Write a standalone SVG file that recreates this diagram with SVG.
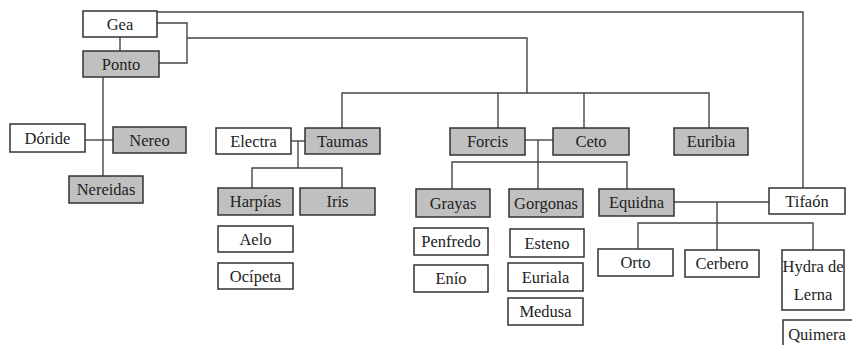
<svg xmlns="http://www.w3.org/2000/svg" width="852" height="345" viewBox="0 0 852 345">
<style>
.b{fill:#fff;stroke:#333;stroke-width:1.5}
.g{fill:#c0c0c0;stroke:#333;stroke-width:1.5}
text{font-size:16.5px;fill:#222;text-anchor:middle}
#connectors path{fill:none;stroke:#444;stroke-width:1.4}
</style>
<rect width="852" height="345" fill="#fff"/>
<g id="connectors">
<path d="M157,12 H803 V188"/>
<path d="M157,23 H187 V63 H159"/>
<path d="M187,38 H527 V93"/>
<path d="M342,128 V93 H709 V128"/>
<path d="M498,93 V128"/>
<path d="M584,93 V128"/>
<path d="M120,37 V51"/>
<path d="M103,77 V176"/>
<path d="M85,140 H113"/>
<path d="M291,141 H305"/>
<path d="M298,141 V168"/>
<path d="M252,188 V168 H342 V188"/>
<path d="M525,140 H553"/>
<path d="M538,140 V189"/>
<path d="M452,189 V162 H627 V189"/>
<path d="M674,202 H769"/>
<path d="M717,202 V250"/>
<path d="M638,249 V223 H813 V250"/>
</g>
<g font-family="Liberation Serif, DejaVu Serif, serif">
<g id="gea"><rect class="b" x="83" y="11" width="74" height="26"/><text x="120" y="30">Gea</text></g>
<g id="ponto"><rect class="g" x="83" y="51" width="76" height="26"/><text x="121" y="69.5">Ponto</text></g>
<g id="doride"><rect class="b" x="10" y="124" width="75" height="28"/><text x="47.5" y="143.5">Dóride</text></g>
<g id="nereo"><rect class="g" x="113" y="127" width="73" height="26"/><text x="149.5" y="145.5">Nereo</text></g>
<g id="nereidas"><rect class="g" x="69" y="176" width="74" height="27"/><text x="106" y="195">Nereidas</text></g>
<g id="electra"><rect class="b" x="216" y="128" width="75" height="26"/><text x="253.5" y="146.5">Electra</text></g>
<g id="taumas"><rect class="g" x="305" y="128" width="75" height="26"/><text x="342.5" y="146.5">Taumas</text></g>
<g id="harpias"><rect class="g" x="218" y="188" width="75" height="27"/><text x="255.5" y="207">Harpías</text></g>
<g id="iris"><rect class="g" x="300" y="188" width="75" height="27"/><text x="337.5" y="207">Iris</text></g>
<g id="aelo"><rect class="b" x="218" y="226" width="75" height="26"/><text x="255.5" y="244.5">Aelo</text></g>
<g id="ocipeta"><rect class="b" x="218" y="263" width="75" height="26"/><text x="255.5" y="281.5">Ocípeta</text></g>
<g id="forcis"><rect class="g" x="450" y="128" width="75" height="27"/><text x="487.5" y="147">Forcis</text></g>
<g id="ceto"><rect class="g" x="553" y="128" width="76" height="27"/><text x="591" y="147">Ceto</text></g>
<g id="euribia"><rect class="g" x="674" y="128" width="74" height="27"/><text x="711" y="147">Euribia</text></g>
<g id="grayas"><rect class="g" x="416" y="189" width="74" height="28"/><text x="453" y="208.5">Grayas</text></g>
<g id="gorgonas"><rect class="g" x="509" y="189" width="74" height="28"/><text x="546" y="208.5">Gorgonas</text></g>
<g id="equidna"><rect class="g" x="599" y="189" width="75" height="27"/><text x="636.5" y="208">Equidna</text></g>
<g id="tifaon"><rect class="b" x="769" y="188" width="76" height="26"/><text x="807" y="206.5">Tifaón</text></g>
<g id="penfredo"><rect class="b" x="414" y="228" width="74" height="27"/><text x="451" y="247">Penfredo</text></g>
<g id="enio"><rect class="b" x="414" y="265" width="74" height="27"/><text x="451" y="284">Enío</text></g>
<g id="esteno"><rect class="b" x="510" y="229" width="74" height="28"/><text x="547" y="248.5">Esteno</text></g>
<g id="euriala"><rect class="b" x="508" y="263" width="75" height="28"/><text x="545.5" y="282.5">Euriala</text></g>
<g id="medusa"><rect class="b" x="508" y="298" width="75" height="27"/><text x="545.5" y="317">Medusa</text></g>
<g id="orto"><rect class="b" x="598" y="249" width="75" height="27"/><text x="635.5" y="268">Orto</text></g>
<g id="cerbero"><rect class="b" x="685" y="250" width="74" height="27"/><text x="722" y="269">Cerbero</text></g>
<g id="hydra"><rect class="b" x="782" y="250" width="62" height="60"/><text x="813" y="272">Hydra de</text><text x="813" y="300">Lerna</text></g>
<g id="quimera"><rect class="b" x="783" y="320" width="72" height="30"/><text x="817" y="340">Quimera</text></g>
</g>
</svg>
